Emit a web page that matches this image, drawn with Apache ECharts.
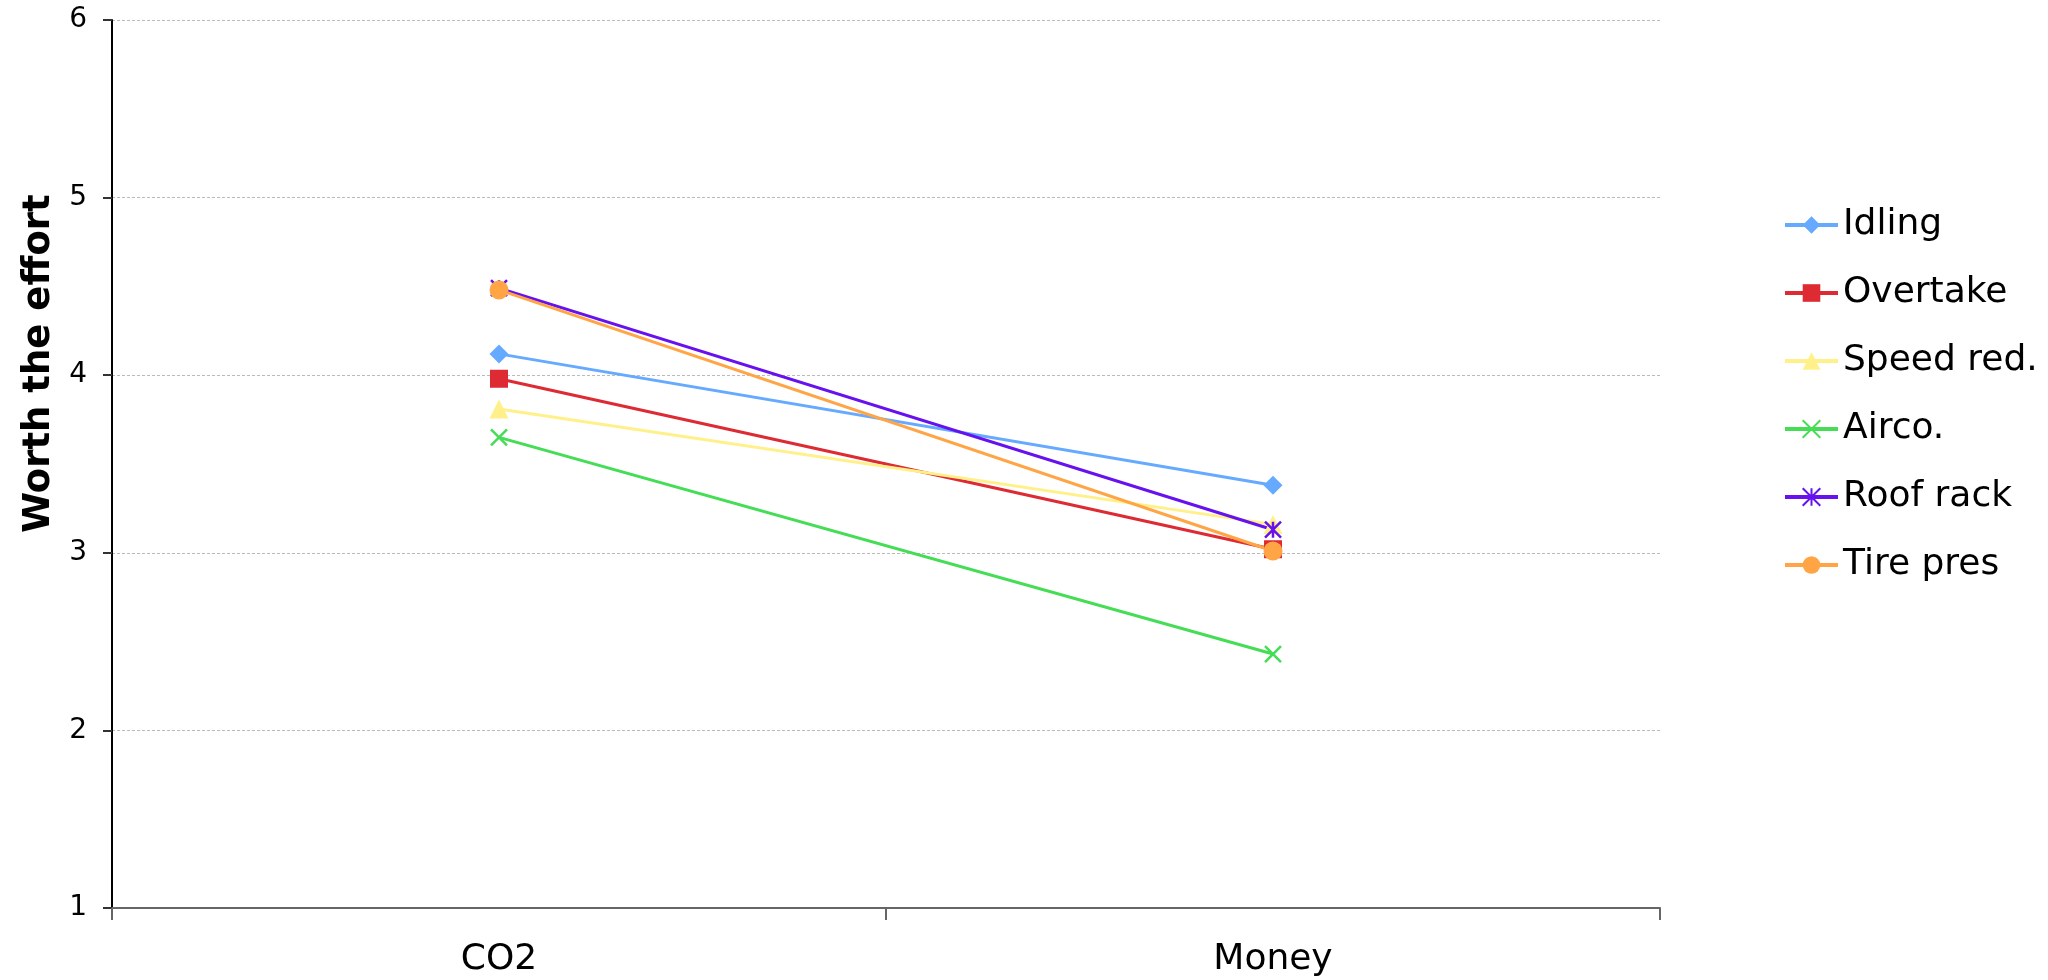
<!DOCTYPE html>
<html>
<head>
<meta charset="utf-8">
<script src="https://cdn.jsdelivr.net/npm/echarts@6/dist/echarts.min.js"></script>
<style>
html,body{margin:0;padding:0;background:#fff;}
#chart{width:2048px;height:980px;}
</style>
</head>
<body>
<div id="chart"></div>
<script>
const categories = ['CO2', 'Money'];
const yTicks = [1, 2, 3, 4, 5, 6];
const idling = [4.12, 3.38];
const overtake = [3.98, 3.02];
const speedRed = [3.81, 3.16];
const airco = [3.65, 2.43];
const roofRack = [4.49, 3.13];
const tirePres = [4.48, 3.01];

const FONT = 'DejaVu Sans';
const crossPath = 'path://M0,0L10,10M10,0L0,10';
const starPath = 'path://M0,0L10,10M10,0L0,10M5,0L5,10';

function mk(name, data, color, symbol, size, stroke) {
  return {
    name: name,
    type: 'line',
    data: data,
    symbol: symbol,
    symbolSize: size,
    showAllSymbol: true,
    lineStyle: { color: color, width: 3 },
    itemStyle: stroke
      ? { color: color, borderColor: color, borderWidth: 2.5 }
      : { color: color, borderWidth: 0 },
    emphasis: { disabled: true },
    animation: false
  };
}

const chart = echarts.init(document.getElementById('chart'), null, { renderer: 'canvas' });
chart.setOption({
  backgroundColor: '#ffffff',
  animation: false,
  grid: { left: 112, right: 388, top: 20, bottom: 72, containLabel: false },
  legend: {
    orient: 'vertical',
    left: 1778,
    top: 202,
    itemWidth: 53,
    itemHeight: 22,
    itemGap: 32,
    lineStyle: { width: 4 },
    textStyle: { fontFamily: FONT, fontSize: 36, color: '#000' },
    data: ['Idling', 'Overtake', 'Speed red.', 'Airco.', 'Roof rack', 'Tire pres']
  },
  xAxis: {
    type: 'category',
    data: categories,
    boundaryGap: true,
    axisLine: { lineStyle: { color: '#666', width: 2 } },
    axisTick: { show: true, length: 12, alignWithLabel: false, lineStyle: { color: '#666', width: 2 } },
    axisLabel: { fontFamily: FONT, fontSize: 36, color: '#000', margin: 34 },
    splitLine: { show: false }
  },
  yAxis: {
    type: 'value',
    min: yTicks[0],
    max: yTicks[yTicks.length - 1],
    interval: 1,
    name: 'Worth the effort',
    nameLocation: 'middle',
    nameGap: 52,
    nameTextStyle: { fontFamily: FONT, fontSize: 37, fontWeight: 'bold', color: '#000', padding: [0, 0, 0, 201] },
    axisLine: { show: true, lineStyle: { color: '#000', width: 2 } },
    axisTick: { show: true, length: 9, inside: false, lineStyle: { color: '#333', width: 2 } },
    axisLabel: { fontFamily: FONT, fontSize: 28, color: '#000', margin: 25 },
    splitLine: { show: true, lineStyle: { color: '#bbbbbb', width: 1, type: [3, 2] } }
  },
  series: [
    mk('Idling', idling, '#66aaff', 'diamond', 19, false),
    mk('Overtake', overtake, '#dd2a33', 'rect', 18, false),
    mk('Speed red.', speedRed, '#fff08a', 'triangle', 19, false),
    mk('Airco.', airco, '#44dd55', crossPath, 16, true),
    mk('Roof rack', roofRack, '#6611ee', starPath, 16, true),
    mk('Tire pres', tirePres, '#ffa545', 'circle', 19, false)
  ]
});
</script>
</body>
</html>
